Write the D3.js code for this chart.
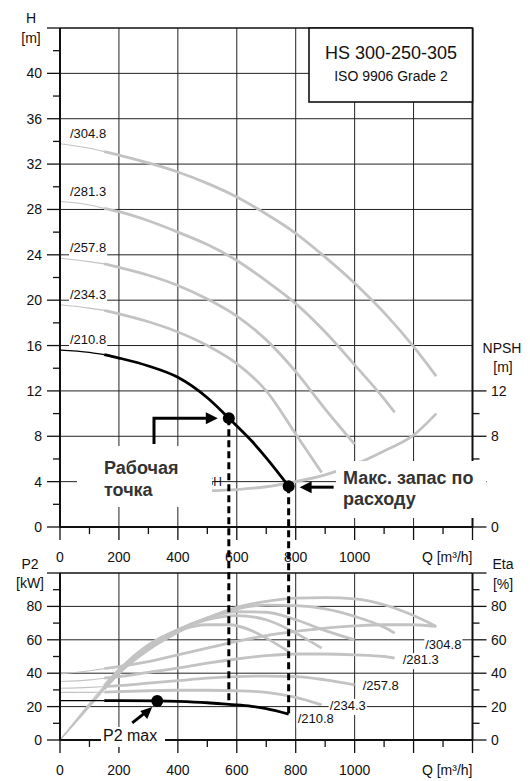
<!DOCTYPE html>
<html><head><meta charset="utf-8">
<script src="https://cdn.jsdelivr.net/npm/d3@7"></script>
<style>
body{margin:0;background:#fff}
svg{display:block}
text{font-family:"Liberation Sans",Arial,Helvetica,sans-serif;fill:#111}
</style>
</head><body>
<svg id="chart" width="530" height="781"></svg>
<script>
// ---------------- DATA ----------------
const impellers = ["/304.8", "/281.3", "/257.8", "/234.3", "/210.8"];
// H-Q curves [Q m3/h, H m]
const hq304 = [[0,33.8],[100,33.4],[150,33.1],[200,32.8],[300,32.1],[400,31.3],[500,30.3],[600,29.1],[700,27.6],[800,25.9],[900,23.8],[1000,21.5],[1100,18.9],[1200,15.9],[1277,13.3]];
const hq281 = [[0,28.7],[100,28.4],[150,28.1],[200,27.8],[300,27.0],[400,26.0],[500,24.9],[600,23.5],[700,21.7],[800,19.7],[900,17.2],[1000,14.3],[1100,11.3],[1136,10.1]];
const hq258 = [[0,23.7],[100,23.4],[150,23.2],[200,22.9],[300,22.2],[400,21.3],[500,20.1],[600,18.6],[700,16.5],[800,13.7],[900,10.4],[1000,7.3]];
const hq234 = [[0,19.6],[100,19.3],[150,19.1],[200,18.8],[300,18.1],[400,17.2],[500,16.0],[600,14.4],[700,12.0],[800,8.2],[888,4.8]];
const hq211 = [[0,15.6],[100,15.4],[150,15.2],[200,14.9],[300,14.2],[400,13.2],[500,11.4],[573,9.6],[650,7.6],[700,6.1],[776,3.6]];
// NPSH curve [Q, NPSH m]
const npsh = [[500,3.2],[600,3.3],[700,3.55],[800,4.0],[900,4.6],[1000,5.5],[1100,6.7],[1200,8.1],[1277,10.0]];
// P2 curves [Q, kW]
const p304 = [[0,39.6],[100,41.5],[150,42.7],[200,44],[300,47],[400,51],[500,55],[600,59],[700,62.5],[800,65],[900,67],[1000,68.3],[1100,69],[1200,69],[1277,68]];
const p281 = [[0,35],[100,36],[150,37],[200,38],[300,40.5],[400,43],[500,46],[600,48.5],[700,50.5],[800,51.5],[900,51.5],[1000,51],[1100,50],[1136,49]];
const p258 = [[0,31],[100,31.5],[150,32],[200,32.5],[300,34],[400,35.5],[500,37],[600,38],[700,38.3],[800,38],[900,36],[1000,33]];
const p234 = [[0,28.5],[100,28.5],[150,28.7],[200,29],[300,29.5],[400,29.8],[500,29.8],[600,29.5],[700,28.5],[800,25.5],[888,21]];
const p211 = [[0,23.6],[100,23.6],[150,23.6],[200,23.6],[330,23.4],[400,23.1],[500,22.3],[573,21.3],[650,20.2],[700,18.8],[776,15.5]];
// Efficiency curves [Q, %]
const e304 = [[0,0],[100,20],[150,30.5],[200,40],[300,54],[400,64.5],[500,73],[600,79.5],[700,83],[800,85],[900,85.3],[1000,84.5],[1100,81],[1200,74.5],[1277,68]];
const e281 = [[0,0],[100,20],[150,30.5],[200,40.5],[300,55],[400,65],[500,73],[600,78.5],[700,80.8],[800,80.5],[900,78.5],[1000,74],[1100,67.5],[1136,64]];
const e258 = [[0,0],[100,21],[150,31.5],[200,41],[300,56],[400,66],[500,73],[600,76.8],[700,76.5],[800,72],[900,65.5],[1000,60]];
const e234 = [[0,0],[100,21],[150,31.5],[200,41.5],[300,56.5],[400,66],[500,72],[600,74.5],[700,72],[800,64],[888,55]];
const e211 = [[0,0],[100,22],[150,32.5],[200,42],[300,57],[400,65.5],[500,69],[573,69],[650,65.5],[700,61],[776,53]];
// Marked points
const opPoint = {q:573, h:9.6, p:21.3};
const maxPoint = {q:776, h:3.6, p:15.5};
const p2maxPoint = {q:330, p:23.4};
// Ticks
const qMajor = [0,200,400,600,800,1000,1200,1400];
const qMinor = [100,300,500,700,900,1100,1300];
const qLabels = [0,200,400,600,800,1000];
const hMajor = [0,4,8,12,16,20,24,28,32,36,40,44];
const hMinor = [2,6,10,14,18,22,26,30,34,38,42];
const hLabels = [0,4,8,12,16,20,24,28,32,36,40];
const npshMajor = [0,4,8,12];
const npshMinor = [2,6,10];
const npshLabels = [0,8,12];
const pMajor = [0,20,40,60,80,100];
const pMinor = [10,30,50,70,90];
const pLabels = [0,20,40,60,80];
const THIN_UNTIL = 150;

// ---------------- SCALES ----------------
const svg = d3.select("#chart");
const x  = d3.scaleLinear().domain([0,1400]).range([60,472.5]);
const yH = d3.scaleLinear().domain([0,44]).range([527,28]);
const yP = d3.scaleLinear().domain([0,100]).range([740,573]);

const GRID = "#222", GRAY = "#c3c3c3";
function ln(g,x1,y1,x2,y2,w,c){ return g.append("line").attr("x1",x1).attr("y1",y1).attr("x2",x2).attr("y2",y2).attr("stroke",c||"#111").attr("stroke-width",w||1); }
function txt(g,xx,yy,s,size,anchor,weight,fill){ return g.append("text").attr("x",xx).attr("y",yy).attr("font-size",size).attr("text-anchor",anchor||"start").attr("font-weight",weight||"normal").style("fill",fill||"#111").text(s); }

const gGrid = svg.append("g"), gCurves = svg.append("g"), gAxes = svg.append("g"), gAnn = svg.append("g");

// ---------------- GRID ----------------
qMajor.slice(1,-1).forEach(q => { ln(gGrid,x(q),yH(0),x(q),yH(44),1,GRID); ln(gGrid,x(q),yP(0),x(q),yP(100),1,GRID); });
hMajor.slice(1,-1).forEach(h => ln(gGrid,x(0),yH(h),x(1400),yH(h),1,GRID));
pMajor.slice(1,-1).forEach(p => ln(gGrid,x(0),yP(p),x(1400),yP(p),1,GRID));

// ---------------- AXES ----------------
ln(gAxes,x(0),yH(44),x(1400),yH(44),1.5);
ln(gAxes,x(0),yH(44),x(0),yH(0)+0.5,2);
ln(gAxes,x(1400),yH(44),x(1400),yH(0)+0.5,2);
ln(gAxes,x(0),yH(0),x(1400),yH(0),2);
ln(gAxes,x(0),yP(100),x(1400),yP(100),1.5);
ln(gAxes,x(0),yP(100),x(0),yP(0)+0.5,2);
ln(gAxes,x(1400),yP(100),x(1400),yP(0)+0.5,2);
ln(gAxes,x(0),yP(0),x(1400),yP(0),2);

hMajor.forEach(h => ln(gAxes,x(0)-13,yH(h),x(0),yH(h),1.3));
hMinor.forEach(h => ln(gAxes,x(0)-7,yH(h),x(0),yH(h),1.3));
hLabels.forEach(h => txt(gAxes,42,yH(h)+5,String(h),14,"end"));
npshMajor.forEach(h => ln(gAxes,x(1400),yH(h),x(1400)+14,yH(h),1.3));
npshMinor.forEach(h => ln(gAxes,x(1400),yH(h),x(1400)+7,yH(h),1.3));
npshLabels.forEach(h => txt(gAxes,491,yH(h)+5,String(h),14,"start"));

pMajor.forEach(p => { ln(gAxes,x(0)-13,yP(p),x(0),yP(p),1.3); ln(gAxes,x(1400),yP(p),x(1400)+14,yP(p),1.3); });
pMinor.forEach(p => { ln(gAxes,x(0)-7,yP(p),x(0),yP(p),1.3); ln(gAxes,x(1400),yP(p),x(1400)+7,yP(p),1.3); });
pLabels.forEach(p => { txt(gAxes,42,yP(p)+5,String(p),14,"end"); txt(gAxes,491,yP(p)+5,String(p),14,"start"); });

qMajor.forEach(q => { ln(gAxes,x(q),yH(0),x(q),yH(0)+13,1.3); ln(gAxes,x(q),yP(0),x(q),yP(0)+13,1.3); });
qMinor.forEach(q => { ln(gAxes,x(q),yH(0),x(q),yH(0)+7,1.3); ln(gAxes,x(q),yP(0),x(q),yP(0)+7,1.3); });
qLabels.forEach(q => { txt(gAxes,x(q),562,String(q),14,"middle"); txt(gAxes,x(q),775,String(q),14,"middle"); });
txt(gAxes,x(1400),562,"Q [m³/h]",14,"end");
txt(gAxes,x(1400),775,"Q [m³/h]",14,"end");

txt(gAxes,31,23,"H",14,"middle");
txt(gAxes,31,43,"[m]",14,"middle");
txt(gAxes,502,353,"NPSH",14,"middle");
txt(gAxes,503,372,"[m]",14,"middle");
txt(gAxes,30,569,"P2",14,"middle");
txt(gAxes,30,588,"[kW]",14,"middle");
txt(gAxes,503,569,"Eta",14,"middle");
txt(gAxes,503,589,"[%]",14,"middle");

// ---------------- CURVES ----------------
function drawSeries(g, data, ys, color){
  const gen = d3.line().x(d=>x(d[0])).y(d=>ys(d[1])).curve(d3.curveMonotoneX);
  const thin = data.filter(d=>d[0]<=THIN_UNTIL), thick = data.filter(d=>d[0]>=THIN_UNTIL);
  if (thin.length>1) g.append("path").attr("d",gen(thin)).attr("fill","none").attr("stroke",color).attr("stroke-width",1.1);
  g.append("path").attr("d",gen(thick)).attr("fill","none").attr("stroke",color).attr("stroke-width",2.8).attr("stroke-linecap","butt");
}
const hqAll = [hq304,hq281,hq258,hq234,hq211];
const pAll = [p304,p281,p258,p234,p211];
const eAll = [e304,e281,e258,e234,e211];

eAll.forEach(d=> drawSeries(gCurves,d,yP,GRAY));
pAll.slice(0,4).forEach(d=> drawSeries(gCurves,d,yP,GRAY));
drawSeries(gCurves,p211,yP,"#000");
drawSeries(gCurves,npsh,yH,GRAY);
hqAll.slice(0,4).forEach(d=> drawSeries(gCurves,d,yH,GRAY));
drawSeries(gCurves,hq211,yH,"#000");

// curve labels with white background
function label(g,xx,yy,s,size){
  const t = txt(g,xx,yy,s,size,"start");
  const b = t.node().getBBox();
  g.insert("rect","text:last-child").attr("x",b.x-1).attr("y",b.y+1).attr("width",b.width+2).attr("height",b.height+1).attr("fill","#fff");
  return t;
}
const gLab = svg.append("g");
hqAll.forEach((d,i)=> { const gg = gLab.append("g"); label(gg,70,yH(d[0][1])-6,impellers[i],13); });
const pLabOff = [[-11,23],[8,6],[8,5],[8,5],[9,9]];
pAll.forEach((d,i)=> {
  const e = d[d.length-1]; const gg = gLab.append("g");
  label(gg,x(e[0])+pLabOff[i][0],yP(e[1])+pLabOff[i][1],impellers[i],13);
});

// ---------------- TITLE BOX ----------------
gAnn.append("rect").attr("x",309).attr("y",yH(44)).attr("width",x(1400)-309).attr("height",74).attr("fill","#fff").attr("stroke","#111").attr("stroke-width",1.6);
txt(gAnn,391,59,"HS 300-250-305",18,"middle");
txt(gAnn,391,81,"ISO 9906 Grade 2",14,"middle");

// ---------------- ANNOTATIONS ----------------
txt(gAnn,222,486,"NPSH",12,"end");
gAnn.append("rect").attr("x",77).attr("y",446).attr("width",135).attr("height",61).attr("fill","#fff");
txt(gAnn,104,474,"Рабочая",18,"start","bold","#333");
txt(gAnn,104,496,"точка",18,"start","bold","#333");
gAnn.append("rect").attr("x",336).attr("y",461).attr("width",150).attr("height",57).attr("fill","#fff");
txt(gAnn,343,484,"Макс. запас по",18,"start","bold","#333");
txt(gAnn,343,505,"расходу",18,"start","bold","#333");
gAnn.append("rect").attr("x",101).attr("y",727).attr("width",64).attr("height",20).attr("fill","#fff");
txt(gAnn,103,741,"P2 max",16,"start");

[opPoint, maxPoint].forEach(pt=>{
  gAnn.append("line").attr("x1",x(pt.q)).attr("y1",yH(pt.h)).attr("x2",x(pt.q)).attr("y2",yP(pt.p))
    .attr("stroke","#000").attr("stroke-width",3).attr("stroke-dasharray","7,4");
});

const ox = x(opPoint.q), oy = yH(opPoint.h);
gAnn.append("path").attr("d",`M154,444 V${oy} H${ox-22}`).attr("fill","none").attr("stroke","#000").attr("stroke-width",3);
gAnn.append("path").attr("d",`M${ox-23},${oy-6} L${ox-11},${oy} L${ox-23},${oy+6} Z`).attr("fill","#000");
const mx = x(maxPoint.q), my = yH(maxPoint.h);
gAnn.append("path").attr("d",`M${mx+45},${my+1} H${mx+22}`).attr("fill","none").attr("stroke","#000").attr("stroke-width",3);
gAnn.append("path").attr("d",`M${mx+23},${my-5} L${mx+11},${my+1} L${mx+23},${my+7} Z`).attr("fill","#000");
const px = x(p2maxPoint.q), py = yP(p2maxPoint.p);
gAnn.append("line").attr("x1",px-25).attr("y1",py+22).attr("x2",px-11).attr("y2",py+11).attr("stroke","#000").attr("stroke-width",3);
gAnn.append("path").attr("d",`M${px-5},${py+6} L${px-17},${py+10} L${px-10},${py+18} Z`).attr("fill","#000");

[[x(opPoint.q),yH(opPoint.h)],[x(maxPoint.q),yH(maxPoint.h)],[x(p2maxPoint.q),yP(p2maxPoint.p)]].forEach(([cx,cy])=>
  gAnn.append("circle").attr("cx",cx).attr("cy",cy).attr("r",6).attr("fill","#000"));
</script>
</body></html>
